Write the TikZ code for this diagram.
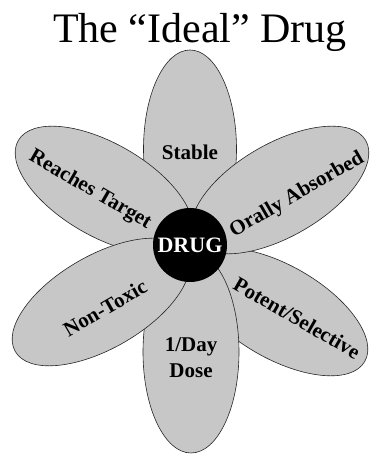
\documentclass[tikz,border=0pt]{standalone}
\usepackage{fontspec}
\setmainfont{Liberation Serif}
\usetikzlibrary{shapes.geometric}
\definecolor{petalgray}{gray}{0.78}
\begin{document}
\begin{tikzpicture}[x=1pt,y=1pt,
  petal/.style={ellipse,draw=black!85,line width=0.6pt,fill=petalgray,inner sep=0pt,minimum width=198pt,minimum height=93pt},
  lbl/.style={font=\fontsize{21}{26}\selectfont\bfseries,inner sep=0pt}]
  \useasboundingbox (0,0) rectangle (372,455);
  \node[anchor=base,inner sep=0pt,font=\fontsize{42}{48}\selectfont] (title) at (200,412) {The “Ideal” Drug};
  \node[petal,rotate=90] (stable) at (190,306) {};
  \node[petal,rotate=-30] (potent) at (279,143) {};
  \node[petal,rotate=-30] (reach) at (104,265) {};
  \node[petal,rotate=30] (oral) at (280,265) {};
  \node[petal,rotate=90,minimum width=202pt,minimum height=96pt] (day) at (191,103) {};
  \node[petal,rotate=30] (nontox) at (101,153) {};
  \node[circle,fill=black,minimum size=74pt,inner sep=0pt,text=white,font=\fontsize{22}{26}\selectfont\bfseries] (drug) at (190,210) {DRUG};
  \node[lbl] (stabletxt) at (190,303) {Stable};
  \node[lbl,rotate=-30] (reachtxt) at (90,265) {Reaches Target};
  \node[lbl,rotate=30] (oraltxt) at (297,260) {Orally Absorbed};
  \node[lbl,rotate=30] (nontoxtxt) at (105,147) {Non-Toxic};
  \node[lbl,rotate=-30] (potenttxt) at (297,137) {Potent/Selective};
  \node[lbl,align=center] (daytxt) at (191,97) {1/Day\\Dose};
\end{tikzpicture}
\end{document}
